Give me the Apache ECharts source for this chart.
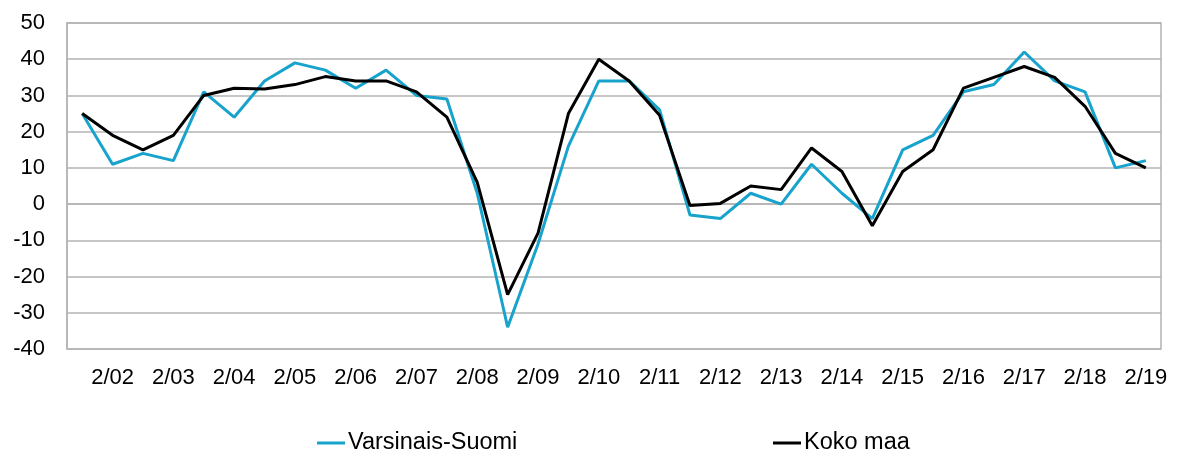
<!DOCTYPE html>
<html>
<head>
<meta charset="utf-8">
<script src="https://cdn.jsdelivr.net/npm/echarts@6/dist/echarts.min.js"></script>
<style>
  html, body { margin: 0; padding: 0; background: #fff; }
  #chart { width: 1185px; height: 452px; }
</style>
</head>
<body>
<div id="chart"></div>
<script>
const categories = [
  '8/01', '2/02', '8/02', '2/03', '8/03', '2/04', '8/04', '2/05', '8/05', '2/06',
  '8/06', '2/07', '8/07', '2/08', '8/08', '2/09', '8/09', '2/10', '8/10', '2/11',
  '8/11', '2/12', '8/12', '2/13', '8/13', '2/14', '8/14', '2/15', '8/15', '2/16',
  '8/16', '2/17', '8/17', '2/18', '8/18', '2/19'
];

const varsinaisSuomi = [
  25, 11, 14, 12, 31, 24, 34, 39, 37, 32,
  37, 30, 29, 3, -34, -11, 16, 34, 34, 26,
  -3, -4, 3, 0, 11, 3, -4, 15, 19, 31,
  33, 42, 34, 31, 10, 12
];

const kokoMaa = [
  25, 19, 15, 19, 30, 32, 31.8, 33, 35.2, 34,
  34, 31, 24, 6, -25, -8, 25, 40, 34, 24.5,
  -0.4, 0.2, 5, 4, 15.5, 9, -6, 9, 15, 32,
  35, 38, 35, 27, 14, 10
];

const FONT = '"Liberation Sans", Arial, sans-serif';
const BLUE = '#17a3cc';
const GRID_GREY = '#b3b3b3';

const chart = echarts.init(document.getElementById('chart'));

function legendFor(name, left) {
  return {
    data: [{ name: name, icon: 'rect' }],
    left: left,
    top: 431,
    padding: 0,
    itemWidth: 28,
    itemHeight: 3,
    itemGap: 0,
    textStyle: { fontSize: 23.5, color: '#000', fontFamily: FONT, padding: [0, 0, 0, -2] }
  };
}

chart.setOption({
  animation: false,
  textStyle: { fontFamily: FONT },
  grid: {
    left: 67,
    top: 23,
    right: 24,
    bottom: 103,
    show: true,
    borderColor: GRID_GREY,
    borderWidth: 1.5
  },
  legend: [
    legendFor('Varsinais-Suomi', 317),
    legendFor('Koko maa', 773)
  ],
  xAxis: {
    type: 'category',
    data: categories,
    boundaryGap: true,
    axisLine: { lineStyle: { color: GRID_GREY, width: 1.5 } },
    axisTick: { show: false },
    axisLabel: {
      interval: function (index) { return index % 2 === 1; },
      fontSize: 22,
      color: '#000',
      margin: 18,
      fontFamily: FONT
    },
    splitLine: { show: false }
  },
  yAxis: {
    type: 'value',
    min: -40,
    max: 50,
    interval: 10,
    axisLine: { show: true, lineStyle: { color: GRID_GREY, width: 1.5 } },
    axisTick: { show: false },
    axisLabel: {
      fontSize: 22,
      color: '#000',
      margin: 22,
      fontFamily: FONT
    },
    splitLine: { lineStyle: { color: GRID_GREY, width: 1.5 } }
  },
  series: [
    {
      name: 'Varsinais-Suomi',
      type: 'line',
      data: varsinaisSuomi,
      symbol: 'none',
      lineStyle: { color: BLUE, width: 3 },
      itemStyle: { color: BLUE }
    },
    {
      name: 'Koko maa',
      type: 'line',
      data: kokoMaa,
      symbol: 'none',
      lineStyle: { color: '#000', width: 3 },
      itemStyle: { color: '#000' }
    }
  ]
});
</script>
</body>
</html>
